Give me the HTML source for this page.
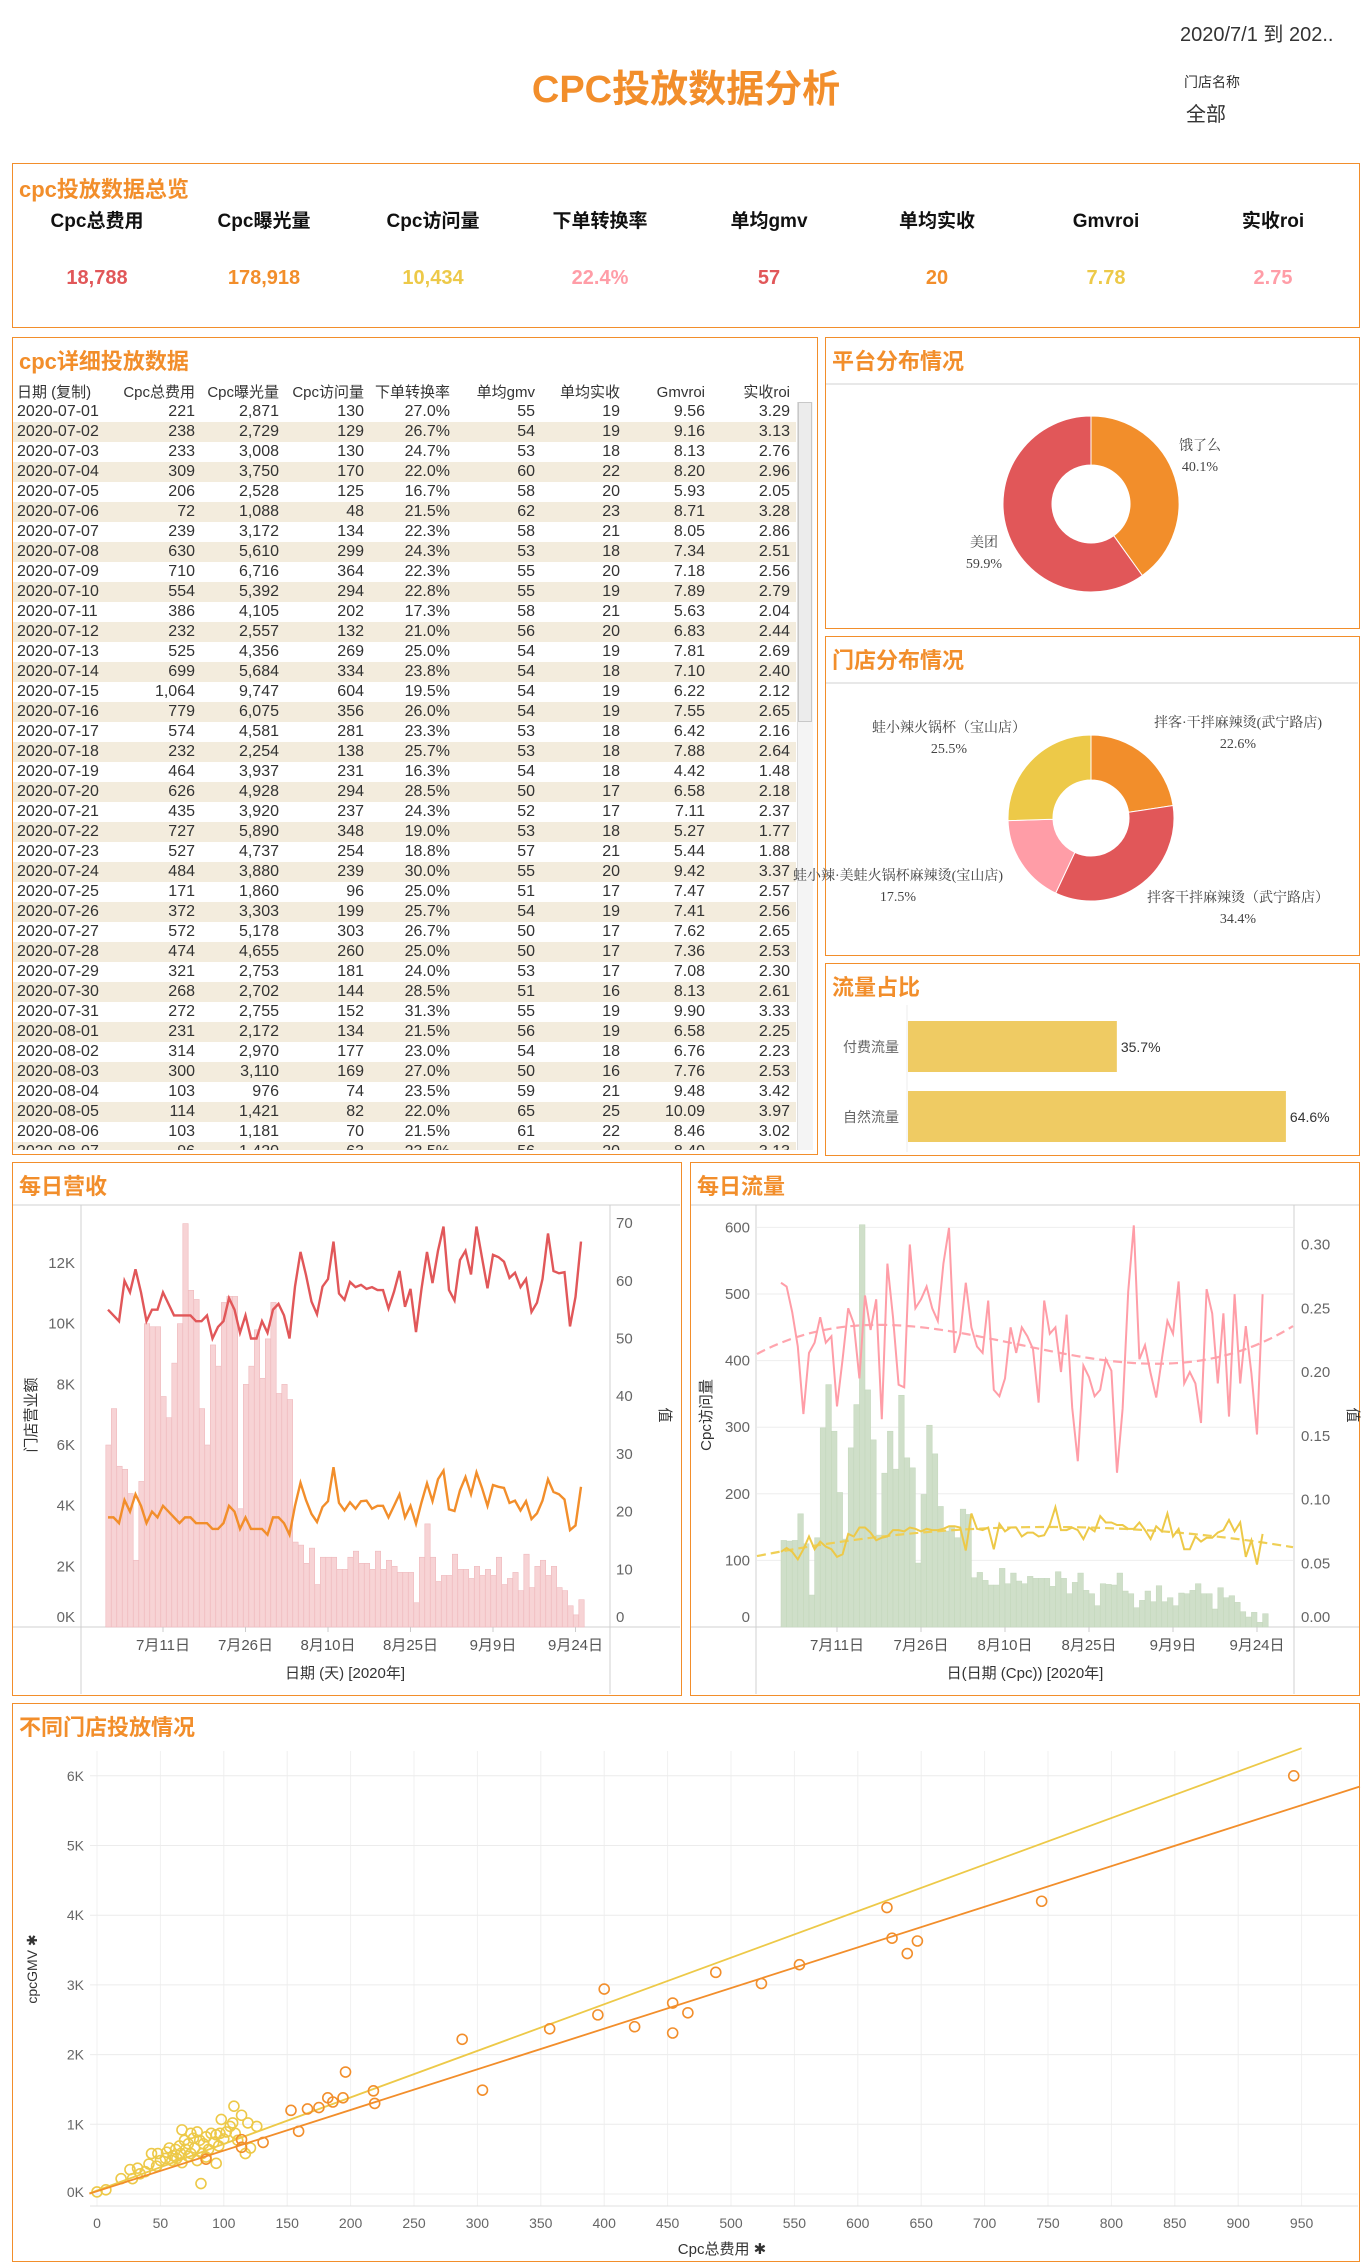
<!DOCTYPE html>
<html><head><meta charset="utf-8">
<style>
body{margin:0;width:1366px;height:2268px;background:#fff;position:relative;overflow:hidden;font-family:"Liberation Sans","Noto Sans CJK SC",sans-serif;}
.abs{position:absolute;}
.panel{position:absolute;border:1px solid #f28e2b;box-sizing:border-box;}
.ptitle{position:absolute;left:6px;top:6px;font-size:22px;font-weight:bold;color:#f28e2b;}
#tbl{position:absolute;left:13px;top:380px;width:800px;height:770px;overflow:hidden;font-size:16px;color:#333;}
.row{position:absolute;left:0;width:783px;height:20px;line-height:20px;}
.row span,.hdr span{position:absolute;white-space:nowrap;}
.hdr{position:absolute;left:0;top:0;width:783px;height:22px;line-height:26px;font-size:15px;color:#333;}
</style></head>
<body>
<div class="abs" style="left:0;width:1372px;top:58px;text-align:center;font-size:38px;font-weight:bold;color:#f28e2b;">CPC投放数据分析</div>
<div class="abs" style="left:1180px;top:18px;font-size:20px;color:#333;">2020/7/1 到 202..</div>
<div class="abs" style="left:1184px;top:72px;font-size:14px;color:#333;">门店名称</div>
<div class="abs" style="left:1186px;top:98px;font-size:20px;color:#333;">全部</div>

<div class="panel" style="left:12px;top:163px;width:1348px;height:165px;">
 <div class="ptitle" style="top:8px;">cpc投放数据总览</div>
</div>
<div id="kpis"></div>

<div class="panel" style="left:12px;top:337px;width:806px;height:818px;">
 <div class="ptitle" style="top:6px;">cpc详细投放数据</div>
</div>
<div id="tbl"></div>
<div class="abs" style="left:797px;top:402px;width:15px;height:748px;background:#f4f4f4;border-left:1px solid #ddd;"></div>
<div class="abs" style="left:798px;top:402px;width:14px;height:320px;background:#ececec;border:1px solid #c8c8c8;box-sizing:border-box;"></div>

<div class="panel" style="left:825px;top:337px;width:535px;height:292px;"><div class="ptitle">平台分布情况</div></div>
<div class="panel" style="left:825px;top:636px;width:535px;height:320px;"><div class="ptitle">门店分布情况</div></div>
<div class="panel" style="left:825px;top:963px;width:535px;height:193px;"><div class="ptitle">流量占比</div></div>
<div class="panel" style="left:12px;top:1162px;width:670px;height:534px;"><div class="ptitle">每日营收</div></div>
<div class="panel" style="left:690px;top:1162px;width:670px;height:534px;"><div class="ptitle">每日流量</div></div>
<div class="panel" style="left:12px;top:1703px;width:1348px;height:559px;"><div class="ptitle">不同门店投放情况</div></div>

<svg id="svg" width="1366" height="2268" style="position:absolute;left:0;top:0;" xmlns="http://www.w3.org/2000/svg"></svg>

<script>
// ---------- data ----------
const kpiLabels = ["Cpc总费用","Cpc曝光量","Cpc访问量","下单转换率","单均gmv","单均实收","Gmvroi","实收roi"];
const kpiValues = ["18,788","178,918","10,434","22.4%","57","20","7.78","2.75"];
const tableHeaders = ["日期 (复制)","Cpc总费用","Cpc曝光量","Cpc访问量","下单转换率","单均gmv","单均实收","Gmvroi","实收roi"];
const tableRows = [
"2020-07-01|221|2,871|130|27.0%|55|19|9.56|3.29","2020-07-02|238|2,729|129|26.7%|54|19|9.16|3.13","2020-07-03|233|3,008|130|24.7%|53|18|8.13|2.76",
"2020-07-04|309|3,750|170|22.0%|60|22|8.20|2.96","2020-07-05|206|2,528|125|16.7%|58|20|5.93|2.05","2020-07-06|72|1,088|48|21.5%|62|23|8.71|3.28",
"2020-07-07|239|3,172|134|22.3%|58|21|8.05|2.86","2020-07-08|630|5,610|299|24.3%|53|18|7.34|2.51","2020-07-09|710|6,716|364|22.3%|55|20|7.18|2.56",
"2020-07-10|554|5,392|294|22.8%|55|19|7.89|2.79","2020-07-11|386|4,105|202|17.3%|58|21|5.63|2.04","2020-07-12|232|2,557|132|21.0%|56|20|6.83|2.44",
"2020-07-13|525|4,356|269|25.0%|54|19|7.81|2.69","2020-07-14|699|5,684|334|23.8%|54|18|7.10|2.40","2020-07-15|1,064|9,747|604|19.5%|54|19|6.22|2.12",
"2020-07-16|779|6,075|356|26.0%|54|19|7.55|2.65","2020-07-17|574|4,581|281|23.3%|53|18|6.42|2.16","2020-07-18|232|2,254|138|25.7%|53|18|7.88|2.64",
"2020-07-19|464|3,937|231|16.3%|54|18|4.42|1.48","2020-07-20|626|4,928|294|28.5%|50|17|6.58|2.18","2020-07-21|435|3,920|237|24.3%|52|17|7.11|2.37",
"2020-07-22|727|5,890|348|19.0%|53|18|5.27|1.77","2020-07-23|527|4,737|254|18.8%|57|21|5.44|1.88","2020-07-24|484|3,880|239|30.0%|55|20|9.42|3.37",
"2020-07-25|171|1,860|96|25.0%|51|17|7.47|2.57","2020-07-26|372|3,303|199|25.7%|54|19|7.41|2.56","2020-07-27|572|5,178|303|26.7%|50|17|7.62|2.65",
"2020-07-28|474|4,655|260|25.0%|50|17|7.36|2.53","2020-07-29|321|2,753|181|24.0%|53|17|7.08|2.30","2020-07-30|268|2,702|144|28.5%|51|16|8.13|2.61",
"2020-07-31|272|2,755|152|31.3%|55|19|9.90|3.33","2020-08-01|231|2,172|134|21.5%|56|19|6.58|2.25","2020-08-02|314|2,970|177|23.0%|54|18|6.76|2.23",
"2020-08-03|300|3,110|169|27.0%|50|16|7.76|2.53","2020-08-04|103|976|74|23.5%|59|21|9.48|3.42","2020-08-05|114|1,421|82|22.0%|65|25|10.09|3.97",
"2020-08-06|103|1,181|70|21.5%|61|22|8.46|3.02","2020-08-07|96|1,420|63|23.5%|56|20|8.40|3.13"];

const platformNames = ["饿了么","美团"];
const platformShares = [40.1, 59.9];
const storeNames = ["拌客·干拌麻辣烫(武宁路店)","拌客干拌麻辣烫（武宁路店）","蛙小辣·美蛙火锅杯麻辣烫(宝山店)","蛙小辣火锅杯（宝山店）"];
const storeShares = [22.6, 34.4, 17.5, 25.5];
const flowNames = ["付费流量","自然流量"];
const flowShares = [35.7, 64.6];

const revenueK = [6.0,7.2,5.3,5.2,4.4,2.2,4.8,10.0,9.9,9.9,7.6,6.9,8.7,10.0,13.3,11.1,10.8,7.2,6.0,9.3,8.6,10.7,10.9,10.9,3.9,8.0,8.6,9.8,8.2,9.5,10.7,7.7,8.0,7.5,2.8,2.7,2.1,2.6,1.4,2.3,2.3,2.3,1.9,1.9,2.3,2.5,2.1,2.1,1.9,2.5,1.9,2.2,2.0,1.8,1.8,1.8,0.8,2.3,3.4,2.3,1.5,1.7,1.7,2.4,1.9,1.9,1.6,2.0,1.7,1.9,1.7,2.3,1.4,1.6,1.8,1.2,2.4,1.3,2.0,2.2,1.7,2.0,1.3,1.2,0.7,0.4,0.9];
const gmvPerOrder = [55,54,53,60,58,62,58,53,55,55,58,56,54,54,54,54,53,53,54,50,52,53,57,55,51,54,50,50,53,51,55,56,54,50,59,65,61,
56.4,54.2,59.0,60.3,66.8,57.8,56.7,59.8,58.9,59.3,58.6,58.9,58.4,58.4,55.2,58.1,61.7,55.5,58.6,51.1,58.6,65.0,59.6,65.2,69.4,58.4,56.6,63.6,65.2,61.1,69.4,64.0,58.7,64.5,64.1,63.3,60.5,61.4,58.9,60.3,54.6,56.2,60.3,68.2,61.7,61.3,61.5,52.1,57.2,66.8];
const netPerOrder = [19,19,18,22,20,23,21,18,20,19,21,20,19,18,19,19,18,18,18,17,17,18,21,20,17,19,17,17,17,16,19,19,18,16,21,25,22,
19.6,18.2,20.8,21.8,27.7,21.5,20.2,21.6,20.5,21.8,21.9,20.5,21.0,21.0,19.0,21.0,23.0,19.0,21.0,17.9,21.6,24.9,21.8,25.6,27.1,20.4,20.1,23.7,26.0,23.0,26.8,24.1,21.0,24.6,24.3,24.1,21.5,21.9,20.2,21.8,18.7,19.7,21.9,25.6,23.4,23.0,22.1,16.8,17.6,24.3];
const revLeftTicks = [0,2,4,6,8,10,12];
const revRightTicks = [0,10,20,30,40,50,60,70];
const dateTickDays = [10,25,40,55,70,85];
const dateTickLabels = ["7月11日","7月26日","8月10日","8月25日","9月9日","9月24日"];

const visits = [130,129,130,170,125,48,134,299,364,294,202,132,269,334,604,356,281,138,231,294,237,348,254,239,96,199,303,260,181,144,152,134,177,169,74,82,70,
63,63,88,65,81,69,65,76,73,73,73,61,83,73,50,67,81,55,50,32,65,64,63,81,54,50,29,40,54,38,62,38,44,32,51,50,55,65,50,50,27,59,44,47,37,23,15,22,7,20];
const convRate = [0.270,0.267,0.247,0.220,0.167,0.215,0.223,0.243,0.223,0.228,0.173,0.210,0.250,0.238,0.195,0.260,0.233,0.257,0.163,0.285,0.243,0.190,0.188,0.300,0.250,0.257,0.267,0.250,0.240,0.285,0.313,0.215,0.230,0.270,0.235,0.220,0.215,
0.256,0.186,0.181,0.195,0.235,0.215,0.235,0.228,0.218,0.176,0.256,0.230,0.235,0.200,0.245,0.172,0.130,0.205,0.196,0.181,0.186,0.210,0.201,0.121,0.171,0.263,0.315,0.210,0.221,0.199,0.180,0.210,0.240,0.230,0.271,0.191,0.200,0.191,0.160,0.265,0.246,0.191,0.246,0.165,0.261,0.191,0.236,0.199,0.151,0.261];
const clickRate = [0.059,0.062,0.059,0.053,0.061,0.071,0.061,0.067,0.063,0.061,0.055,0.057,0.073,0.071,0.078,0.078,0.074,0.068,0.070,0.071,0.076,0.076,0.075,0.078,0.077,0.075,0.077,0.076,0.076,0.077,0.079,0.079,0.078,0.060,0.089,0.077,0.076,
0.078,0.061,0.081,0.075,0.078,0.078,0.071,0.074,0.074,0.071,0.072,0.080,0.094,0.076,0.076,0.078,0.076,0.069,0.078,0.075,0.087,0.082,0.082,0.080,0.080,0.077,0.077,0.082,0.076,0.069,0.079,0.075,0.089,0.071,0.077,0.061,0.061,0.071,0.067,0.070,0.070,0.074,0.076,0.084,0.075,0.082,0.055,0.068,0.049,0.073];
const trafLeftTicks = [0,100,200,300,400,500,600];
const trafRightTicks = [0,0.05,0.10,0.15,0.20,0.25,0.30];

const orangeCost = [943.8,745,623,627,639,647,554,524,488,400,395,454,466,424,454,357,288,304,196,218,219,194,182,175,166,153,159,131,114,114,86,186];
const orangeGmvK = [6.0,4.20,4.11,3.67,3.45,3.63,3.29,3.02,3.18,2.94,2.57,2.74,2.60,2.40,2.31,2.37,2.22,1.49,1.75,1.48,1.30,1.38,1.38,1.24,1.22,1.20,0.90,0.74,0.78,0.67,0.50,1.32];
const yellowCost = [7,0,19,28,26,32,38,41,43,48,50,55,57,60,62,65,66,67,69,70,72,74,74,76,77,79,81,82,83,84,86,88,90,92,94,94,96,97,98,100,102,105,107,108,109,111,114,117,119,121,126,34,47,54,59,63,67,72,79,86];
const yellowGmvK = [0.06,0.03,0.22,0.22,0.35,0.37,0.32,0.43,0.58,0.58,0.48,0.60,0.66,0.55,0.64,0.69,0.58,0.92,0.77,0.64,0.72,0.87,0.58,0.80,0.66,0.89,0.77,0.15,0.58,0.72,0.82,0.64,0.87,0.74,0.85,0.44,0.69,0.87,1.07,0.79,0.89,0.97,1.02,1.26,0.87,0.77,1.13,0.58,1.02,0.66,0.97,0.29,0.40,0.51,0.48,0.51,0.45,0.54,0.48,0.53];
const yellowTrend = [0.05, 0.00668];
const orangeTrend = [0.04, 0.00583];
const scatterXTicks = [0,50,100,150,200,250,300,350,400,450,500,550,600,650,700,750,800,850,900,950];
const scatterYTicks = [0,1,2,3,4,5,6];

// ---------- helpers ----------
const NS="http://www.w3.org/2000/svg";
const svg=document.getElementById('svg');
function mk(tag,attrs,parent){const e=document.createElementNS(NS,tag);for(const k in attrs)e.setAttribute(k,attrs[k]);(parent||svg).appendChild(e);return e;}
function tx(x,y,s,size,fill,anchor,extra){const e=mk('text',Object.assign({x:x,y:y,'font-size':size,fill:fill,'text-anchor':anchor||'start','font-family':'"Liberation Sans","Noto Sans CJK SC",sans-serif'},extra||{}));e.textContent=s;return e;}
function line(x1,y1,x2,y2,c,w,extra){return mk('line',Object.assign({x1:x1,y1:y1,x2:x2,y2:y2,stroke:c,'stroke-width':w||1},extra||{}));}
function polyfit(xs,ys,deg){const n=deg+1;const A=[];for(let i=0;i<n;i++){A.push(new Array(n+1).fill(0));}
 for(let k=0;k<xs.length;k++){for(let i=0;i<n;i++){for(let j=0;j<n;j++)A[i][j]+=Math.pow(xs[k],i+j);A[i][n]+=ys[k]*Math.pow(xs[k],i);}}
 for(let i=0;i<n;i++){let p=i;for(let r=i+1;r<n;r++)if(Math.abs(A[r][i])>Math.abs(A[p][i]))p=r;[A[i],A[p]]=[A[p],A[i]];
  for(let r=0;r<n;r++){if(r===i)continue;const f=A[r][i]/A[i][i];for(let c=i;c<=n;c++)A[r][c]-=f*A[i][c];}}
 return A.map((r,i)=>r[n]/r[i]);}
function pv(c,x){let s=0;for(let i=0;i<c.length;i++)s+=c[i]*Math.pow(x,i);return s;}

// ---------- KPIs ----------
const kpiX=[97,264,433,600,769,937,1106,1273];
const kpiColors=["#e15759","#f28e2b","#edc948","#ff9da7","#e15759","#f28e2b","#edc948","#ff9da7"];
kpiLabels.forEach((l,i)=>{
 const a=tx(kpiX[i],227,l,19,'#111','middle',{'font-weight':'bold'});
 
 
 const b=tx(kpiX[i],284,kpiValues[i],20,kpiColors[i],'middle',{'font-weight':'bold'});
 
 
});

// ---------- table ----------
const tbl=document.getElementById('tbl');
const colRight=[null,182,266,351,437,522,607,692,777];
const hdr=document.createElement('div');hdr.className='hdr';


tableHeaders.forEach((h,i)=>{const s=document.createElement('span');s.textContent=h;
 if(i===0){s.style.left='4px';}else{s.style.right=(783-colRight[i])+'px';}hdr.appendChild(s);});
tbl.appendChild(hdr);
tableRows.forEach((r,ri)=>{const d=document.createElement('div');d.className='row';
 
 
 d.style.top=(22+ri*20)+'px';d.style.background=ri%2?'#f3ecdd':'#fff';
 r.split('|').forEach((c,i)=>{const s=document.createElement('span');s.textContent=c;
  if(i===0){s.style.left='4px';}else{s.style.right=(783-colRight[i])+'px';}d.appendChild(s);});
 tbl.appendChild(d);});

// ---------- donuts ----------
function donut(cx,cy,R,r,shares,colors,name){let a0=0;const tot=shares.reduce((a,b)=>a+b,0);
 shares.forEach((s,i)=>{const a1=a0+s/tot*2*Math.PI;
  const p=(a,rad)=>[cx+rad*Math.sin(a),cy-rad*Math.cos(a)];const lg=(a1-a0)>Math.PI?1:0;
  const [x0,y0]=p(a0,R),[x1,y1]=p(a1,R),[x2,y2]=p(a1,r),[x3,y3]=p(a0,r);
  const e=mk('path',{d:`M${x0},${y0}A${R},${R} 0 ${lg} 1 ${x1},${y1}L${x2},${y2}A${r},${r} 0 ${lg} 0 ${x3},${y3}Z`,fill:colors[i],stroke:'#fff','stroke-width':1});
  
  
  a0=a1;});}
line(826,384,1358,384,'#d0d0d0',1);
line(826,683,1358,683,'#d0d0d0',1);
donut(1091,504,88,39,platformShares,['#f28e2b','#e15759'],'platform');
donut(1091,818,83,38,storeShares,['#f28e2b','#e15759','#ff9da7','#edc948'],'store');
const serif={'font-family':'"Liberation Serif","Noto Serif CJK SC",serif'};
const plLab=[[1200,450],[984,547]];
platformNames.forEach((n,i)=>{
 const a=tx(plLab[i][0],plLab[i][1],n,14,'#444','middle',serif);
 
 
 const b=tx(plLab[i][0],plLab[i][1]+21,platformShares[i].toFixed(1)+'%',14,'#444','middle',serif);
 
 });
const stLab=[[1238,727],[1238,902],[898,880],[949,732]];
storeNames.forEach((n,i)=>{
 const a=tx(stLab[i][0],stLab[i][1],n,14,'#444','middle',serif);
 
 
 const b=tx(stLab[i][0],stLab[i][1]+21,storeShares[i].toFixed(1)+'%',14,'#444','middle',serif);
 
 });

// ---------- flow bars ----------
const flowX=v=>908+v*5.85;
const flowY=[1021,1091];
line(907,1005,907,1152,'#eee',1);
flowNames.forEach((n,i)=>{
 const r=mk('rect',{x:flowX(0),y:flowY[i],width:flowX(flowShares[i])-flowX(0),height:51,fill:'#efcb63'});
 
 
 const l=tx(843,flowY[i]+31,n,14,'#666','start');
 
 
 const v=tx(flowX(flowShares[i])+4,flowY[i]+31,flowShares[i].toFixed(1)+'%',14,'#333','start');
 
 });

// ---------- revenue chart ----------
const xR=d=>108+d*5.5, yRL=v=>1627-v*30.33, yRR=v=>1627-v*5.77;
line(13,1205,680,1205,'#d0d0d0',1);line(13,1627,680,1627,'#d0d0d0',1);
line(81,1205,81,1694,'#d0d0d0',1);line(610,1205,610,1694,'#d0d0d0',1);
revenueK.forEach((v,d)=>{const r=mk('rect',{x:xR(d)-2.2,y:yRL(v),width:5.4,height:1627-yRL(v),fill:'#f7d3d5',stroke:'#efb9bd','stroke-width':0.6});
 
 });
const gp=mk('polyline',{points:gmvPerOrder.map((v,d)=>xR(d)+','+yRR(v)).join(' '),fill:'none',stroke:'#e15759','stroke-width':2.4});


const np=mk('polyline',{points:netPerOrder.map((v,d)=>xR(d)+','+yRR(v)).join(' '),fill:'none',stroke:'#f28e2b','stroke-width':2.4});


revLeftTicks.forEach(v=>{const t=tx(75,Math.min(yRL(v),1617)+5,v+'K',15,'#666','end');
 
 });
revRightTicks.forEach(v=>{const t=tx(616,Math.min(yRR(v),1617)+5,String(v),15,'#666','start');
 
 });
dateTickDays.forEach((d,i)=>{line(xR(d),1627,xR(d),1632,'#ccc',1);
 const t=tx(xR(d),1650,dateTickLabels[i],15,'#555','middle');
 
 });
{const t=tx(345,1678,'日期 (天) [2020年]',15,'#333','middle');
 
 
 const y=tx(0,0,'门店营业额',15,'#333','middle',{transform:'translate(36,1415) rotate(-90)'});
 
 
 const y2=tx(0,0,'值',15,'#333','middle',{transform:'translate(660,1415) rotate(90)'});
 
 }

// ---------- traffic chart ----------
const xT=d=>781+d*5.6, yTL=v=>1627-v*0.666, yTR=v=>1627-v*1275;
line(691,1205,1359,1205,'#d0d0d0',1);line(691,1627,1359,1627,'#d0d0d0',1);
trafLeftTicks.forEach(v=>{if(v>0)line(757,yTL(v),1293,yTL(v),'#eeeeee',1);});
line(756,1205,756,1694,'#d0d0d0',1);line(1294,1205,1294,1694,'#d0d0d0',1);
visits.forEach((v,d)=>{const r=mk('rect',{x:xT(d),y:yTL(v),width:5.6,height:1627-yTL(v),fill:'#cfdfc9',stroke:'#c2d6ba','stroke-width':0.5});
 
 });
const dIdx=convRate.map((_,d)=>d);
const cfit=polyfit(dIdx.map(d=>d/90),convRate,3), kfit=polyfit(dIdx.map(d=>d/90),clickRate,2);
function trend(c,col,name){const pts=[];for(let x=757;x<=1293;x+=4){const d=(x-781)/5.6;pts.push(x+','+yTR(pv(c,d/90)));}
 const e=mk('polyline',{points:pts.join(' '),fill:'none',stroke:col,'stroke-width':2.2,'stroke-dasharray':'9,5'});
 
 }
trend(cfit,'#ffa5ae','conversion-trend-line');
trend(kfit,'#efcf55','click-rate-trend-line');
const cp=mk('polyline',{points:convRate.map((v,d)=>xT(d)+','+yTR(v)).join(' '),fill:'none',stroke:'#ff9da7','stroke-width':2});


const kp=mk('polyline',{points:clickRate.map((v,d)=>xT(d)+','+yTR(v)).join(' '),fill:'none',stroke:'#edc948','stroke-width':2});


trafLeftTicks.forEach(v=>{const t=tx(750,Math.min(yTL(v),1617)+5,String(v),15,'#666','end');
 
 });
trafRightTicks.forEach(v=>{const t=tx(1301,Math.min(yTR(v),1617)+5,v.toFixed(2),15,'#666','start');
 
 });
dateTickDays.forEach((d,i)=>{line(xT(d),1627,xT(d),1632,'#ccc',1);
 const t=tx(xT(d),1650,dateTickLabels[i],15,'#555','middle');
 
 });
{const t=tx(1025,1678,'日(日期 (Cpc)) [2020年]',15,'#333','middle');
 
 
 const y=tx(0,0,'Cpc访问量',15,'#333','middle',{transform:'translate(711,1415) rotate(-90)'});
 
 
 const y2=tx(0,0,'值',15,'#333','middle',{transform:'translate(1348,1415) rotate(90)'});
 
 }

// ---------- scatter ----------
const xS=v=>97+v*1.268, yS=v=>2194-v*69.7;
scatterXTicks.forEach(v=>{line(xS(v),1751,xS(v),2206,'#f0f0f0',1);
 const t=tx(xS(v),2228,String(v),14,'#666','middle');
 
 });
scatterYTicks.forEach(v=>{line(90,yS(v),1358,yS(v),'#ececec',1);
 const t=tx(84,Math.min(yS(v),2192)+5,v+'K',14,'#666','end');
 
 });
line(90,2206,1358,2206,'#e0e0e0',1);
function tl(c,col,name,xmax){const x0=-6,x1=xmax;
 const e=line(xS(x0),yS(c[0]+c[1]*x0),xS(x1),yS(c[0]+c[1]*x1),col,1.8);
 
 }
yellowCost.forEach((v,i)=>{const c=mk('circle',{cx:xS(v),cy:yS(yellowGmvK[i]),r:5,fill:'none',stroke:'#edc948','stroke-width':1.6});
 
 });
tl(yellowTrend,'#edc948','yellow-trend-line',950);
tl(orangeTrend,'#f28e2b','orange-trend-line',996);
orangeCost.forEach((v,i)=>{const c=mk('circle',{cx:xS(v),cy:yS(orangeGmvK[i]),r:5,fill:'none',stroke:'#f28e2b','stroke-width':1.6});
 
 });
{const t=tx(722,2254,'Cpc总费用 ✱',15,'#333','middle');
 
 
 const y=tx(0,0,'cpcGMV ✱',14,'#333','middle',{transform:'translate(37,1969) rotate(-90)'});
 
 }
</script>
</body></html>
